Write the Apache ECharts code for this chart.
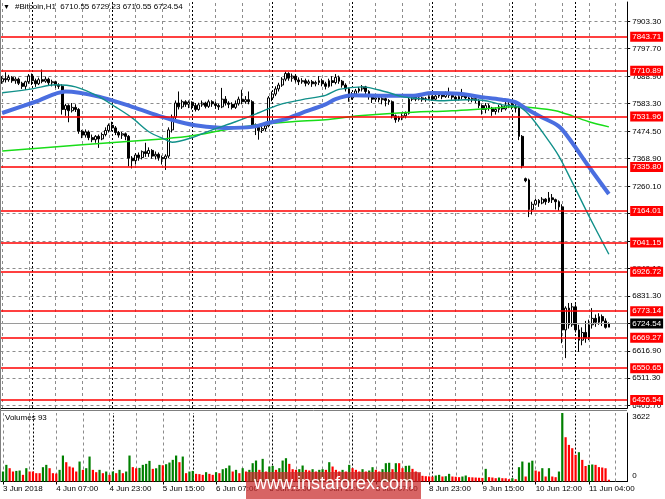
<!DOCTYPE html>
<html><head><meta charset="utf-8">
<script src="https://cdn.jsdelivr.net/npm/echarts@6/dist/echarts.min.js"></script>
<style>html,body{margin:0;padding:0;background:#fff}#c{width:665px;height:499px}</style>
</head><body><div id="c"></div>
<script>
const symbolTitle = '#Bitcoin,H1  6710.55 6729.23 6710.55 6724.54';
const volumeTitle = 'Volumes 93';
const timeLabels = ['3 Jun 2018','4 Jun 07:00','4 Jun 23:00','5 Jun 15:00','6 Jun 07:00','6 Jun 23:00','7 Jun 15:00','8 Jun 07:00','8 Jun 23:00','9 Jun 15:00','10 Jun 12:00','11 Jun 04:00'];
const priceTicks = [7903.30,7797.70,7688.90,7583.30,7474.50,7368.90,7260.10,7154.50,7045.70,6940.10,6831.30,6725.70,6616.90,6511.30,6405.70];
const levels = [7843.71,7710.89,7531.96,7335.80,7164.01,7041.15,6926.72,6773.14,6669.27,6550.65,6426.54];
const lastPrice = 6724.54;
const volumeMax = 3622;
const daySeparators = [9,33,57,81,105,129,153,172];
const slotCount = 188;
// [open, close, low, high]
const candles = [
[7668,7680,7660,7690],[7680,7676,7665,7705],[7676,7685,7668,7695],[7685,7672,7664,7690],[7672,7678,7660,7686],
[7678,7662,7655,7684],[7662,7650,7640,7668],[7650,7668,7636,7672],[7668,7690,7660,7698],[7690,7672,7655,7700],
[7672,7660,7648,7680],[7660,7676,7655,7684],[7676,7670,7662,7716],[7670,7678,7664,7688],[7678,7664,7655,7684],
[7664,7668,7650,7676],[7668,7655,7644,7672],[7655,7650,7640,7662],[7650,7560,7540,7658],[7560,7575,7535,7582],
[7575,7555,7510,7580],[7555,7568,7548,7585],[7568,7560,7550,7580],[7560,7475,7465,7565],[7475,7460,7448,7480],
[7460,7472,7450,7482],[7472,7450,7440,7478],[7450,7442,7432,7462],[7442,7455,7430,7460],[7455,7445,7410,7462],
[7445,7462,7440,7470],[7462,7478,7455,7490],[7478,7498,7470,7505],[7498,7488,7475,7512],[7488,7470,7460,7495],
[7470,7460,7450,7476],[7460,7465,7445,7472],[7465,7455,7440,7470],[7455,7370,7338,7460],[7370,7360,7330,7378],
[7360,7382,7345,7390],[7382,7372,7360,7392],[7372,7395,7365,7400],[7395,7388,7375,7430],[7388,7400,7375,7412],
[7400,7378,7368,7405],[7378,7385,7365,7396],[7385,7372,7360,7392],[7372,7368,7345,7380],[7368,7378,7324,7385],
[7378,7480,7370,7490],[7480,7530,7470,7540],[7530,7585,7520,7595],[7585,7570,7560,7630],[7570,7590,7562,7598],
[7590,7580,7570,7596],[7580,7588,7565,7595],[7588,7575,7560,7592],[7575,7560,7552,7585],[7560,7578,7555,7586],
[7578,7585,7570,7595],[7585,7572,7564,7590],[7572,7590,7566,7598],[7590,7582,7570,7596],[7582,7575,7562,7590],
[7575,7570,7558,7582],[7570,7600,7565,7644],[7600,7585,7575,7612],[7585,7580,7565,7592],[7580,7568,7560,7588],
[7568,7582,7562,7595],[7582,7600,7575,7610],[7600,7590,7580,7637],[7590,7598,7582,7612],[7598,7590,7580,7630],
[7590,7500,7490,7596],[7500,7490,7460,7505],[7490,7478,7442,7498],[7478,7485,7468,7500],[7485,7496,7475,7505],
[7496,7605,7490,7612],[7605,7620,7592,7630],[7620,7640,7612,7650],[7640,7655,7630,7664],[7655,7678,7648,7686],
[7678,7700,7670,7708],[7700,7682,7672,7705],[7682,7690,7668,7700],[7690,7675,7665,7698],[7675,7668,7655,7685],
[7668,7672,7660,7682],[7672,7662,7650,7680],[7662,7668,7655,7676],[7668,7660,7648,7675],[7660,7665,7650,7672],
[7665,7672,7655,7690],[7672,7660,7650,7680],[7660,7650,7638,7668],[7650,7672,7645,7680],[7672,7665,7650,7690],
[7665,7685,7658,7698],[7685,7670,7660,7692],[7670,7655,7645,7675],[7655,7640,7630,7662],[7640,7605,7590,7645],
[7605,7620,7598,7628],[7620,7632,7612,7640],[7632,7640,7625,7648],[7640,7648,7630,7655],[7648,7630,7620,7652],
[7630,7610,7598,7635],[7610,7600,7585,7618],[7600,7605,7590,7612],[7605,7598,7588,7610],[7598,7602,7580,7608],
[7602,7595,7572,7606],[7595,7590,7578,7600],[7590,7535,7525,7595],[7535,7520,7508,7540],[7520,7528,7512,7535],
[7528,7535,7518,7545],[7535,7545,7525,7552],[7545,7600,7540,7610],[7600,7608,7592,7615],[7608,7600,7592,7614],
[7600,7605,7595,7612],[7605,7598,7590,7610],[7598,7602,7590,7608],[7602,7610,7596,7615],[7610,7600,7594,7614],
[7600,7612,7596,7618],[7612,7618,7605,7625],[7618,7610,7600,7622],[7610,7620,7605,7630],[7620,7615,7605,7645],
[7615,7608,7598,7620],[7608,7600,7592,7612],[7600,7610,7595,7616],[7610,7615,7600,7640],[7615,7605,7598,7620],
[7605,7598,7590,7610],[7598,7602,7588,7608],[7602,7595,7585,7606],[7595,7575,7565,7600],[7575,7560,7540,7580],
[7560,7575,7545,7585],[7575,7565,7555,7582],[7565,7552,7535,7570],[7552,7560,7540,7568],[7560,7570,7548,7578],
[7570,7562,7550,7580],[7562,7575,7556,7590],[7575,7580,7565,7595],[7580,7572,7560,7590],[7572,7565,7548,7585],
[7565,7455,7440,7570],[7455,7340,7330,7460],[7290,7282,7276,7294],[7285,7170,7140,7290],[7170,7190,7150,7200],
[7190,7205,7185,7212],[7205,7195,7180,7210],[7195,7210,7190,7218],[7210,7200,7188,7214],[7200,7215,7195,7238],
[7215,7208,7195,7230],[7208,7200,7170,7212],[7200,7180,7165,7205],[7180,6700,6648,7190],[6700,6785,6590,6792],
[6785,6720,6705,6805],[6720,6790,6712,6805],[6790,6700,6690,6800],[6700,6660,6614,6720],[6660,6690,6640,6710],
[6690,6668,6650,6735],[6668,6720,6660,6740],[6720,6745,6705,6785],[6745,6730,6712,6760],[6730,6752,6720,6765],
[6752,6735,6715,6760],[6735,6710,6705,6745],[6710.55,6724.54,6710.55,6729.23]
];
const volumes = [
528,880,704,528,560,581,352,704,528,528,440,440,757,880,704,440,420,616,1373,1021,
792,739,528,1056,616,704,1320,616,493,616,440,528,352,528,440,616,440,528,1373,760,
700,720,880,933,1091,669,700,880,860,915,1003,1144,1373,1021,1320,440,528,560,405,390,
352,493,405,352,493,440,651,704,845,528,616,440,704,528,616,968,1109,616,1197,528,
792,827,616,704,1109,1232,933,651,616,651,845,616,581,651,528,616,651,616,1021,792,
616,528,616,528,880,704,616,528,651,528,581,757,616,528,651,968,990,651,968,968,
704,827,840,669,528,440,300,280,270,260,317,352,264,280,405,264,250,229,264,317,
229,220,210,200,190,669,229,211,176,211,176,170,123,176,123,757,1056,264,1000,1100,
581,528,704,264,704,264,229,528,3622,2341,1936,1760,1408,1549,1144,820,880,900,880,760,
740,700,93
];
const maBlue = [[0,7546],[10,7590],[19,7630],[29,7610],[39,7570],[48,7531],[53,7512],[59,7496],[67,7488],[75,7492],[80,7508],[85,7522],[90,7547],[97,7580],[100,7600],[105,7615],[115,7613],[123,7613],[129,7624],[137,7621],[145,7606],[150,7598],[154,7588],[157,7565],[161,7535],[167,7494],[171,7430],[175,7355],[182,7230]];
const maTeal = [[0,7625],[9,7640],[16,7656],[22,7648],[29,7610],[34,7570],[39,7527],[44,7473],[49,7442],[51,7432],[57,7450],[63,7480],[70,7512],[77,7547],[83,7578],[90,7598],[97,7615],[101,7638],[108,7648],[115,7629],[120,7610],[125,7602],[131,7594],[139,7598],[145,7594],[150,7578],[155,7570],[158,7540],[163,7455],[167,7378],[172,7250],[176,7145],[182,6995]];
const maGreen = [[0,7398],[24,7422],[49,7446],[57,7457],[67,7481],[77,7500],[87,7512],[97,7520],[107,7535],[120,7547],[135,7555],[145,7563],[154,7570],[160,7566],[166,7555],[171,7535],[176,7512],[182,7492]];

const FONT = "'Liberation Sans', Arial, sans-serif";
const slots = [];
for (let i = 0; i < slotCount; i++) slots.push(i);
const candleData = slots.map(i => candles[i] ? candles[i] : '-');
const volData = slots.map(i => i < volumes.length ? volumes[i] : '-');
const gridEvery = 8;
const gridIdx = slots.filter(i => i % gridEvery === 0);

function gridSeries(name, xi, yi, items, style) {
  return {name: name, type: 'line', xAxisIndex: xi, yAxisIndex: yi, data: [], silent: true, z: 1,
    markLine: {silent: true, symbol: 'none', z: 1, animation: false, label: {show: false},
      lineStyle: style, data: items}};
}
const grayStyle = {color: '#8c8c8c', type: [3, 3], width: 1, opacity: 1};
const dayStyle = {color: '#000000', type: [2, 2], width: 1, opacity: 1};

const chart = echarts.init(document.getElementById('c'), null, {renderer: 'canvas'});
const gridLeft = 0.5, gridWidth = 626.7;
chart.setOption({
  animation: false,
  backgroundColor: '#ffffff',
  textStyle: {fontFamily: FONT},
  grid: [
    {left: gridLeft, width: gridWidth, top: 2, height: 406},
    {left: gridLeft, width: gridWidth, top: 413, height: 68.5}
  ],
  xAxis: [
    {gridIndex: 0, type: 'category', data: slots, boundaryGap: true,
     axisLine: {show: true, lineStyle: {color: '#000', width: 1}}, axisTick: {show: false}, axisLabel: {show: false}, splitLine: {show: false}},
    {gridIndex: 1, type: 'category', data: slots, boundaryGap: true,
     axisLine: {show: true, lineStyle: {color: '#000', width: 1}},
     axisTick: {show: true, alignWithLabel: true, length: 3, interval: (i) => i % 16 === 0 && i / 16 < timeLabels.length, lineStyle: {color: '#000'}},
     axisLabel: {show: true, interval: (i) => i % 16 === 0 && i / 16 < timeLabels.length, formatter: (v, i) => timeLabels[i / 16] || '',
       align: 'left', margin: 3, fontSize: 8, color: '#000', fontFamily: FONT},
     splitLine: {show: false}}
  ],
  yAxis: [
    {gridIndex: 0, type: 'value', position: 'right', min: 6395.33, max: 7979.06,
     axisLine: {show: true, lineStyle: {color: '#000'}},
     axisTick: {show: true, length: 3, customValues: priceTicks, lineStyle: {color: '#000'}},
     axisLabel: {customValues: priceTicks, formatter: v => v.toFixed(2), fontSize: 8, color: '#000', margin: 5, fontFamily: FONT},
     splitLine: {show: false}},
    {gridIndex: 1, type: 'value', position: 'right', min: 0, max: volumeMax, interval: volumeMax,
     axisLine: {show: true, lineStyle: {color: '#000'}},
     axisTick: {show: false},
     axisLabel: {fontSize: 8, color: '#000', margin: 5, fontFamily: FONT,
       formatter: v => v > 0 ? '{t|' + v + '}' : '{b|0}',
       rich: {t: {padding: [8, 0, 0, 0], fontSize: 8}, b: {padding: [0, 0, 11, 0], fontSize: 8}}},
     splitLine: {show: false}}
  ],
  series: [
    gridSeries('hGrid', 0, 0, priceTicks.map(v => ({yAxis: v})), grayStyle),
    gridSeries('vGrid', 0, 0, gridIdx.map(i => ({xAxis: i})), grayStyle),
    gridSeries('vGridVol', 1, 1, gridIdx.map(i => ({xAxis: i})), grayStyle),
    gridSeries('days', 0, 0, daySeparators.map(i => ({xAxis: i})), dayStyle),
    gridSeries('daysVol', 1, 1, daySeparators.map(i => ({xAxis: i})), dayStyle),
    {name: 'Bitcoin', type: 'candlestick', xAxisIndex: 0, yAxisIndex: 0, data: candleData, barWidth: 2.2, z: 3,
     itemStyle: {color: '#ffffff', color0: '#000000', borderColor: '#000000', borderColor0: '#000000', borderWidth: 1},
     markLine: {silent: true, symbol: 'none', z: 6, animation: false,
       data: [
         {yAxis: lastPrice, lineStyle: {color: '#9a9a9a', type: 'solid', width: 1},
          label: {show: true, position: 'end', distance: 3, formatter: lastPrice.toFixed(2), color: '#fff', backgroundColor: '#000',
            fontSize: 8, fontFamily: FONT, padding: [1, 2, 0, 2], lineHeight: 9}},
         ...levels.map(v => ({yAxis: v, lineStyle: {color: '#ff0000', type: 'solid', width: 1.6},
          label: {show: true, position: 'end', distance: 3, formatter: v.toFixed(2), color: '#fff', backgroundColor: '#ff0000',
            fontSize: 8, fontFamily: FONT, padding: [1, 2, 0, 2], lineHeight: 9}}))
       ]}},
    {name: 'MA green', type: 'line', xAxisIndex: 0, yAxisIndex: 0, data: maGreen, smooth: 0.3, showSymbol: false, z: 4,
     lineStyle: {color: '#18dd18', width: 1.5}},
    {name: 'MA blue', type: 'line', xAxisIndex: 0, yAxisIndex: 0, data: maBlue, smooth: 0.3, showSymbol: false, z: 4,
     lineStyle: {color: '#4a6ee0', width: 4}},
    {name: 'MA teal', type: 'line', xAxisIndex: 0, yAxisIndex: 0, data: maTeal, smooth: 0.3, showSymbol: false, z: 4,
     lineStyle: {color: '#11908a', width: 1.4}},
    {name: 'Volumes', type: 'bar', xAxisIndex: 1, yAxisIndex: 1, data: volData, barWidth: 2.2, z: 3,
     itemStyle: {color: p => (p.dataIndex > 0 && volumes[p.dataIndex] > volumes[p.dataIndex - 1]) || p.dataIndex === 0 ? '#008000' : '#ff0000'}}
  ],
  graphic: [
    {type: 'line', shape: {x1: 0.5, y1: 0, x2: 0.5, y2: 482}, style: {stroke: '#808080', lineWidth: 1}, z: 10},
    {type: 'line', shape: {x1: 0, y1: 410.5, x2: 627, y2: 410.5}, style: {stroke: '#808080', lineWidth: 1}, z: 10},
    {type: 'text', left: 3, top: 4, style: {text: '▼', font: '7px ' + FONT, fill: '#000'}, z: 20},
    {type: 'text', left: 15, top: 3, style: {text: symbolTitle, font: '8px ' + FONT, fill: '#000'}, z: 20},
    {type: 'text', left: 5, top: 414, style: {text: volumeTitle, font: '8px ' + FONT, fill: '#000'}, z: 20},
    {type: 'rect', left: 246, top: 472, shape: {width: 175, height: 27}, style: {fill: 'rgba(200,40,40,0.72)'}, z: 30},
    {type: 'text', left: 254, top: 475, style: {text: 'www.instaforex.com', font: '18px ' + FONT, fill: '#ffffff'}, z: 31}
  ]
});
</script>
</body></html>
